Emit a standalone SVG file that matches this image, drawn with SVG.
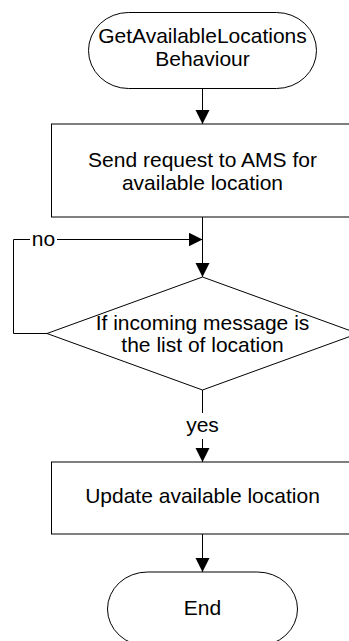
<svg xmlns="http://www.w3.org/2000/svg" width="349" height="641" viewBox="0 0 349 641">
<style>
.shape{fill:#fff;stroke:#000;stroke-width:1}
.edge{fill:none;stroke:#000;stroke-width:1}
.t{font-family:"Liberation Sans",Arial,sans-serif;font-size:21px;fill:#000;text-anchor:middle}
.lbl{fill:#fff;stroke:none}
</style>
<defs>
<marker id="arr" markerUnits="userSpaceOnUse" markerWidth="14" markerHeight="16" viewBox="0 0 14 16" refX="14" refY="7" orient="auto">
<path d="M0,0 L14,7 L0,14 Z" fill="#000"/>
</marker>
</defs>
<rect width="349" height="641" fill="#fff"/>
<g id="connectors">
<line class="edge" x1="202.5" y1="88.5" x2="202.5" y2="124" marker-end="url(#arr)"/>
<line class="edge" x1="202.5" y1="217" x2="202.5" y2="277" marker-end="url(#arr)"/>
<polyline class="edge" points="47,333.5 13.5,333.5 13.5,239.5 202.5,239.5" marker-end="url(#arr)"/>
<rect class="lbl" x="30" y="229" width="27" height="20"/>
<text class="t" x="43.5" y="246">no</text>
<line class="edge" x1="202.5" y1="390" x2="202.5" y2="462" marker-end="url(#arr)"/>
<rect class="lbl" x="185" y="413" width="35" height="26"/>
<text class="t" x="202.5" y="432">yes</text>
<line class="edge" x1="202.5" y1="534" x2="202.5" y2="572" marker-end="url(#arr)"/>
</g>
<g id="start">
<rect class="shape" x="88.5" y="12.5" width="228" height="76" rx="40" ry="38"/>
<text class="t" x="202.5" y="43">GetAvailableLocations</text>
<text class="t" x="202.5" y="66">Behaviour</text>
</g>
<g id="send-request">
<rect class="shape" x="51.5" y="124" width="303" height="93"/>
<text class="t" x="202.5" y="167">Send request to AMS for</text>
<text class="t" x="202.5" y="190">available location</text>
</g>
<g id="decision">
<polygon class="shape" points="202.5,277 358,333.5 202.5,390 47,333.5"/>
<text class="t" x="202.5" y="330">If incoming message is</text>
<text class="t" x="202.5" y="352">the list of location</text>
</g>
<g id="update">
<rect class="shape" x="51.5" y="462" width="303" height="72"/>
<text class="t" x="202.5" y="503">Update available location</text>
</g>
<g id="end">
<rect class="shape" x="107.5" y="572" width="190" height="74" rx="40" ry="37"/>
<text class="t" x="202.5" y="615">End</text>
</g>
</svg>
